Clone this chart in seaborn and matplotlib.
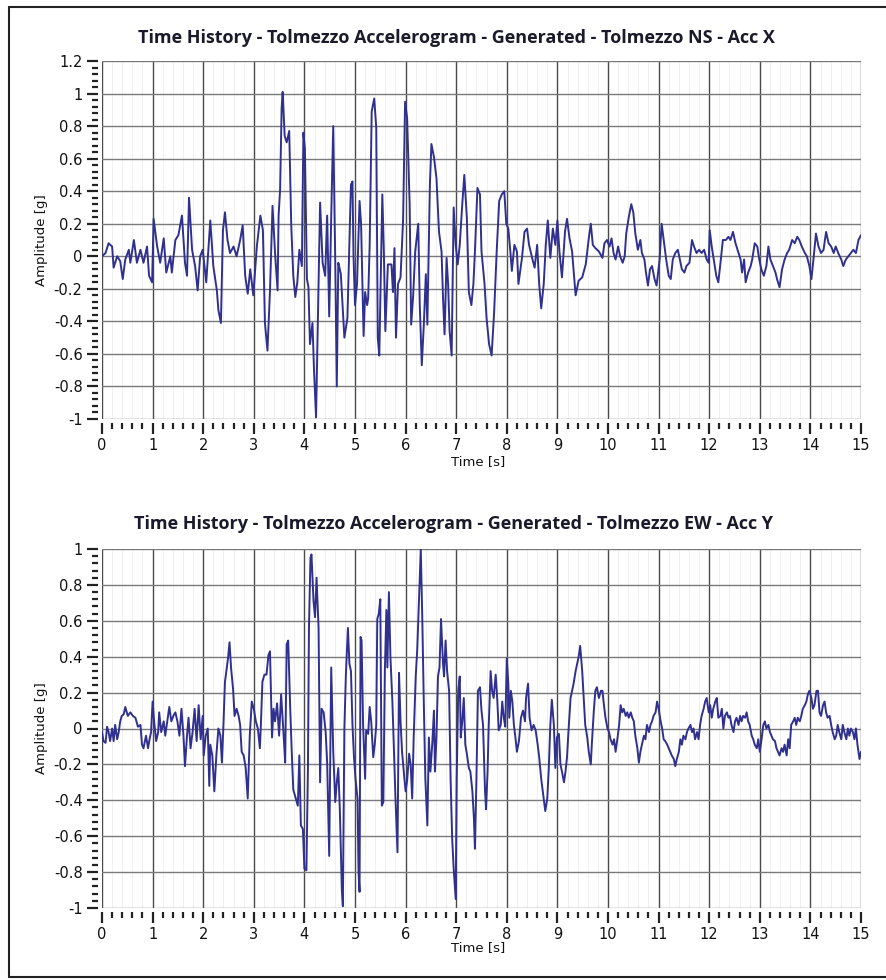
import matplotlib
matplotlib.use('Agg')
import matplotlib.pyplot as plt
from matplotlib.ticker import MultipleLocator, FuncFormatter
from matplotlib.lines import Line2D
import pandas as pd
import seaborn as sns

# ============================================
# Data
# ============================================

TITLE_NS = 'Time History - Tolmezzo Accelerogram - Generated - Tolmezzo NS - Acc X'
TITLE_EW = 'Time History - Tolmezzo Accelerogram - Generated - Tolmezzo EW - Acc Y'

T_NS = [
    0.00, 0.07, 0.13, 0.20, 0.23, 0.30, 0.36, 0.41, 0.46, 0.53,
    0.56, 0.63, 0.69, 0.76, 0.82, 0.89, 0.93, 0.99, 1.02, 1.09,
    1.15, 1.22, 1.27, 1.35, 1.38, 1.45, 1.51, 1.58, 1.64, 1.68,
    1.72, 1.78, 1.84, 1.89, 1.94, 1.99, 2.06, 2.14, 2.20, 2.27,
    2.30, 2.35, 2.39, 2.43, 2.48, 2.53, 2.60, 2.66, 2.73, 2.78,
    2.83, 2.88, 2.93, 2.99, 3.06, 3.13, 3.18, 3.22, 3.27, 3.32,
    3.37, 3.42, 3.47, 3.49, 3.52, 3.55, 3.57, 3.61, 3.65, 3.70,
    3.74, 3.78, 3.82, 3.86, 3.90, 3.95, 3.98, 4.01, 4.05, 4.08,
    4.11, 4.16, 4.19, 4.23, 4.28, 4.31, 4.36, 4.41, 4.45, 4.49,
    4.54, 4.57, 4.61, 4.64, 4.67, 4.70, 4.72, 4.79, 4.85, 4.92,
    4.95, 4.97, 5.00, 5.04, 5.09, 5.12, 5.15, 5.17, 5.20, 5.24,
    5.26, 5.29, 5.33, 5.38, 5.42, 5.45, 5.48, 5.52, 5.54, 5.57,
    5.60, 5.65, 5.72, 5.75, 5.78, 5.81, 5.85, 5.90, 5.95, 5.99,
    6.03, 6.08, 6.11, 6.15, 6.19, 6.25, 6.28, 6.32, 6.36, 6.40,
    6.43, 6.48, 6.51, 6.56, 6.61, 6.66, 6.71, 6.74, 6.77, 6.81,
    6.84, 6.87, 6.91, 6.95, 6.99, 7.03, 7.07, 7.12, 7.16, 7.21,
    7.25, 7.30, 7.34, 7.37, 7.42, 7.47, 7.50, 7.56, 7.60, 7.65,
    7.70, 7.75, 7.80, 7.85, 7.90, 7.95, 7.99, 8.03, 8.07, 8.10,
    8.15, 8.20, 8.23, 8.30, 8.35, 8.40, 8.44, 8.50, 8.55, 8.60,
    8.64, 8.68, 8.73, 8.77, 8.81, 8.86, 8.91, 8.96, 9.00, 9.04,
    9.09, 9.15, 9.19, 9.24, 9.29, 9.36, 9.42, 9.49, 9.56, 9.62,
    9.66, 9.70, 9.75, 9.82, 9.89, 9.93, 9.98, 10.03, 10.07, 10.11,
    10.15, 10.20, 10.24, 10.29, 10.33, 10.36, 10.41, 10.46, 10.50, 10.54,
    10.59, 10.64, 10.67, 10.72, 10.75, 10.79, 10.83, 10.87, 10.92, 10.96,
    11.02, 11.06, 11.10, 11.15, 11.20, 11.24, 11.28, 11.33, 11.38, 11.42,
    11.46, 11.51, 11.55, 11.61, 11.66, 11.70, 11.75, 11.80, 11.85, 11.90,
    11.95, 11.99, 12.01, 12.05, 12.10, 12.14, 12.18, 12.23, 12.27, 12.33,
    12.38, 12.42, 12.47, 12.52, 12.58, 12.62, 12.65, 12.69, 12.72, 12.77,
    12.82, 12.85, 12.90, 12.95, 12.99, 13.03, 13.08, 13.13, 13.17, 13.21,
    13.26, 13.31, 13.34, 13.39, 13.44, 13.49, 13.54, 13.58, 13.64, 13.69,
    13.74, 13.78, 13.83, 13.89, 13.93, 13.98, 14.02, 14.06, 14.11, 14.16,
    14.21, 14.26, 14.31, 14.36, 14.41, 14.46, 14.50, 14.55, 14.61, 14.65,
    14.70, 14.75, 14.80, 14.85, 14.90, 14.95, 15.00,
]

ACC_NS = [
    0.00, 0.02, 0.08, 0.06, -0.07, 0.00, -0.03, -0.14, -0.02, 0.04,
    -0.04, 0.10, -0.04, 0.04, -0.04, 0.06, -0.12, -0.16, 0.23, 0.06,
    -0.04, 0.11, -0.10, 0.00, -0.10, 0.10, 0.13, 0.25, -0.04, -0.12,
    0.36, 0.04, -0.06, -0.21, 0.00, 0.04, -0.16, 0.22, -0.06, -0.21,
    -0.33, -0.41, 0.16, 0.27, 0.10, 0.02, 0.06, 0.00, 0.10, 0.19,
    -0.12, -0.23, -0.08, -0.24, 0.06, 0.25, 0.16, -0.41, -0.58, -0.21,
    0.31, 0.02, -0.21, 0.25, 0.41, 0.91, 1.01, 0.74, 0.70, 0.77,
    0.19, -0.12, -0.25, -0.16, 0.04, -0.06, 0.76, 0.66, -0.14, -0.19,
    -0.54, -0.41, -0.70, -0.99, -0.16, 0.33, -0.04, -0.12, 0.25, -0.37,
    0.39, 0.80, -0.04, -0.80, -0.04, -0.08, -0.11, -0.50, -0.38, 0.44,
    0.46, 0.01, -0.30, -0.17, 0.34, 0.20, -0.22, -0.49, -0.22, -0.30,
    -0.26, 0.07, 0.89, 0.97, 0.79, -0.50, -0.61, 0.03, 0.38, 0.03,
    -0.46, -0.05, -0.05, -0.22, 0.05, -0.50, -0.17, -0.13, 0.22, 0.95,
    0.85, 0.32, -0.42, -0.24, 0.03, 0.20, -0.30, -0.67, -0.42, -0.11,
    -0.42, 0.44, 0.69, 0.61, 0.48, 0.15, 0.03, -0.26, -0.48, -0.01,
    -0.17, -0.46, -0.61, 0.30, 0.07, -0.05, 0.07, 0.32, 0.50, 0.24,
    -0.22, -0.30, -0.17, 0.03, 0.42, 0.38, 0.03, -0.17, -0.38, -0.54,
    -0.61, -0.34, 0.03, 0.34, 0.38, 0.40, 0.20, 0.17, 0.03, -0.09,
    0.07, 0.03, -0.17, -0.01, 0.15, 0.17, 0.07, -0.01, -0.07, 0.07,
    -0.17, -0.32, -0.17, 0.07, 0.22, -0.01, 0.17, 0.07, 0.22, 0.03,
    -0.13, 0.15, 0.23, 0.11, 0.03, -0.24, -0.15, -0.13, -0.05, 0.11,
    0.20, 0.07, 0.05, 0.03, -0.01, 0.08, 0.10, 0.06, 0.11, 0.02,
    -0.02, 0.06, 0.00, -0.04, 0.00, 0.14, 0.24, 0.32, 0.27, 0.14,
    0.04, 0.10, 0.02, -0.02, -0.10, -0.18, -0.08, -0.06, -0.14, -0.18,
    -0.02, 0.20, 0.10, -0.02, -0.12, -0.14, -0.02, 0.02, 0.04, -0.02,
    -0.08, -0.10, -0.06, -0.04, 0.10, 0.06, 0.02, 0.04, 0.02, 0.04,
    -0.02, -0.04, 0.16, 0.06, -0.04, -0.12, -0.16, -0.02, 0.10, 0.10,
    0.12, 0.10, 0.15, 0.08, 0.02, -0.02, -0.10, -0.02, -0.16, -0.10,
    -0.06, -0.02, 0.08, 0.06, -0.02, -0.08, -0.12, -0.06, 0.06, -0.02,
    -0.06, -0.10, -0.14, -0.19, -0.08, -0.02, 0.02, 0.04, 0.10, 0.08,
    0.12, 0.10, 0.06, 0.02, 0.00, -0.06, -0.14, -0.02, 0.14, 0.06,
    0.02, 0.04, 0.15, 0.08, 0.06, 0.02, 0.06, 0.02, -0.02, -0.06,
    -0.02, 0.00, 0.02, 0.04, 0.02, 0.10, 0.13,
]

T_EW = [
    0.00, 0.03, 0.07, 0.10, 0.13, 0.16, 0.20, 0.23, 0.26, 0.30,
    0.33, 0.36, 0.39, 0.43, 0.46, 0.51, 0.56, 0.61, 0.66, 0.71,
    0.76, 0.79, 0.82, 0.87, 0.91, 0.94, 0.97, 1.00, 1.03, 1.07,
    1.11, 1.13, 1.17, 1.22, 1.25, 1.29, 1.33, 1.37, 1.41, 1.45,
    1.49, 1.53, 1.57, 1.61, 1.64, 1.68, 1.71, 1.75, 1.79, 1.83,
    1.87, 1.91, 1.95, 1.99, 2.01, 2.05, 2.09, 2.12, 2.14, 2.18,
    2.22, 2.26, 2.30, 2.34, 2.37, 2.40, 2.43, 2.49, 2.52, 2.55,
    2.59, 2.62, 2.66, 2.70, 2.73, 2.76, 2.80, 2.84, 2.88, 2.92,
    2.96, 3.00, 3.04, 3.08, 3.12, 3.14, 3.17, 3.21, 3.25, 3.29,
    3.32, 3.36, 3.39, 3.42, 3.46, 3.50, 3.54, 3.59, 3.62, 3.65,
    3.68, 3.72, 3.75, 3.78, 3.83, 3.87, 3.90, 3.93, 3.97, 4.00,
    4.04, 4.07, 4.09, 4.12, 4.14, 4.18, 4.21, 4.24, 4.28, 4.31,
    4.34, 4.38, 4.42, 4.45, 4.49, 4.53, 4.57, 4.61, 4.64, 4.67,
    4.70, 4.74, 4.76, 4.79, 4.82, 4.86, 4.89, 4.92, 4.95, 4.98,
    5.01, 5.05, 5.07, 5.09, 5.11, 5.13, 5.16, 5.20, 5.22, 5.26,
    5.29, 5.32, 5.36, 5.39, 5.42, 5.44, 5.47, 5.50, 5.53, 5.56,
    5.59, 5.62, 5.64, 5.67, 5.70, 5.74, 5.77, 5.80, 5.84, 5.87,
    5.90, 5.93, 5.97, 6.00, 6.03, 6.07, 6.10, 6.13, 6.16, 6.20,
    6.23, 6.26, 6.30, 6.33, 6.36, 6.39, 6.43, 6.46, 6.49, 6.53,
    6.56, 6.58, 6.61, 6.64, 6.67, 6.70, 6.74, 6.76, 6.79, 6.82,
    6.86, 6.89, 6.92, 6.95, 6.99, 7.01, 7.04, 7.07, 7.09, 7.12,
    7.15, 7.18, 7.21, 7.25, 7.28, 7.32, 7.35, 7.37, 7.40, 7.43,
    7.47, 7.50, 7.53, 7.57, 7.59, 7.62, 7.64, 7.68, 7.71, 7.74,
    7.78, 7.81, 7.84, 7.88, 7.91, 7.94, 7.97, 8.00, 8.03, 8.05,
    8.08, 8.11, 8.14, 8.17, 8.20, 8.24, 8.28, 8.32, 8.36, 8.38,
    8.42, 8.45, 8.49, 8.53, 8.57, 8.61, 8.64, 8.68, 8.72, 8.76,
    8.80, 8.83, 8.86, 8.89, 8.93, 8.96, 8.99, 9.03, 9.06, 9.09,
    9.13, 9.16, 9.19, 9.22, 9.26, 9.29, 9.32, 9.36, 9.39, 9.42,
    9.45, 9.49, 9.52, 9.55, 9.59, 9.62, 9.66, 9.68, 9.72, 9.75,
    9.78, 9.82, 9.86, 9.89, 9.92, 9.95, 9.99, 10.02, 10.05, 10.09,
    10.12, 10.15, 10.18, 10.22, 10.25, 10.28, 10.31, 10.35, 10.38, 10.41,
    10.45, 10.48, 10.51, 10.54, 10.58, 10.61, 10.64, 10.67, 10.71, 10.74,
    10.77, 10.81, 10.84, 10.87, 10.90, 10.94, 10.97, 11.00, 11.04, 11.07,
    11.10, 11.13, 11.17, 11.20, 11.23, 11.26, 11.30, 11.33, 11.36, 11.40,
    11.43, 11.46, 11.49, 11.53, 11.56, 11.59, 11.63, 11.66, 11.69, 11.72,
    11.76, 11.79, 11.82, 11.85, 11.89, 11.92, 11.95, 11.99, 12.02, 12.05,
    12.08, 12.12, 12.15, 12.18, 12.22, 12.25, 12.28, 12.31, 12.35, 12.38,
    12.41, 12.44, 12.48, 12.51, 12.54, 12.58, 12.61, 12.64, 12.67, 12.71,
    12.74, 12.77, 12.80, 12.84, 12.87, 12.90, 12.94, 12.97, 13.00, 13.03,
    13.07, 13.10, 13.13, 13.17, 13.20, 13.23, 13.26, 13.30, 13.33, 13.36,
    13.39, 13.43, 13.46, 13.49, 13.53, 13.56, 13.59, 13.62, 13.66, 13.69,
    13.72, 13.75, 13.79, 13.82, 13.85, 13.89, 13.92, 13.95, 13.98, 14.02,
    14.05, 14.08, 14.12, 14.15, 14.18, 14.21, 14.25, 14.28, 14.31, 14.34,
    14.38, 14.41, 14.44, 14.48, 14.51, 14.54, 14.57, 14.61, 14.64, 14.67,
    14.71, 14.74, 14.77, 14.80, 14.84, 14.87, 14.90, 14.93, 14.97, 15.00,
]

ACC_EW = [
    -0.02, -0.07, -0.08, 0.01, -0.02, -0.07, 0.00, -0.07, 0.02, -0.06,
    -0.02, 0.04, 0.07, 0.08, 0.12, 0.07, 0.09, 0.07, 0.06, 0.01,
    0.02, -0.09, -0.11, -0.04, -0.11, -0.06, -0.02, 0.15, 0.04, -0.07,
    -0.02, 0.09, -0.02, 0.04, -0.04, 0.04, 0.12, 0.04, 0.07, 0.09,
    0.04, -0.04, 0.11, -0.04, -0.21, -0.04, 0.06, -0.11, -0.02, 0.11,
    -0.07, 0.13, -0.06, 0.07, -0.15, -0.04, 0.00, -0.32, -0.09, -0.15,
    -0.35, -0.15, 0.00, -0.04, -0.19, 0.02, 0.26, 0.39, 0.48, 0.34,
    0.22, 0.07, 0.11, 0.07, 0.02, -0.13, -0.15, -0.22, -0.39, -0.04,
    0.15, 0.11, 0.04, 0.00, -0.11, 0.02, 0.26, 0.30, 0.30, 0.41,
    0.43, -0.05, 0.11, 0.04, 0.14, -0.04, 0.19, -0.04, -0.19, 0.47,
    0.49, 0.11, -0.13, -0.34, -0.39, -0.43, -0.15, -0.54, -0.56, -0.78,
    -0.79, -0.22, 0.56, 0.95, 0.97, 0.71, 0.62, 0.84, 0.56, -0.30,
    0.11, 0.09, -0.02, -0.19, -0.71, 0.34, -0.13, -0.41, -0.30, -0.22,
    -0.45, -0.90, -0.99, 0.00, 0.30, 0.56, 0.36, 0.32, 0.02, -0.16,
    -0.28, -0.39, -0.80, -0.91, 0.51, 0.49, 0.02, -0.28, -0.01, -0.03,
    0.12, 0.04, -0.16, -0.09, 0.02, 0.61, 0.64, 0.72, -0.43, -0.41,
    0.32, 0.66, 0.34, 0.76, 0.40, 0.14, -0.13, -0.39, -0.69, 0.31,
    0.04, -0.13, -0.26, -0.35, -0.29, -0.14, -0.20, -0.39, -0.05, 0.29,
    0.44, 0.68, 1.00, 0.61, 0.14, -0.28, -0.54, -0.05, -0.24, -0.07,
    0.10, -0.24, -0.05, 0.29, 0.34, 0.61, 0.36, 0.29, 0.49, 0.32,
    0.21, -0.29, -0.61, -0.78, -0.95, -0.28, 0.21, 0.29, -0.05, 0.04,
    0.17, -0.09, -0.14, -0.22, -0.24, -0.35, -0.50, -0.67, -0.28, 0.21,
    0.23, 0.10, 0.02, -0.35, -0.45, -0.24, -0.01, 0.32, 0.21, 0.17,
    0.30, 0.17, -0.01, 0.02, 0.15, 0.06, 0.01, 0.39, 0.25, 0.06,
    0.21, 0.15, 0.02, -0.05, -0.13, -0.07, 0.06, 0.10, 0.04, 0.17,
    0.25, 0.06, -0.01, 0.02, -0.01, -0.09, -0.16, -0.28, -0.37, -0.46,
    -0.39, -0.22, 0.02, 0.16, 0.02, -0.22, -0.05, -0.03, -0.20, -0.24,
    -0.30, -0.24, -0.16, -0.01, 0.17, 0.21, 0.25, 0.32, 0.36, 0.40,
    0.46, 0.32, 0.17, 0.02, -0.05, -0.13, -0.20, -0.09, 0.10, 0.21,
    0.23, 0.17, 0.21, 0.21, 0.13, 0.06, 0.00, -0.02, -0.06, -0.09,
    -0.06, -0.13, -0.07, 0.02, 0.13, 0.09, 0.11, 0.07, 0.09, 0.06,
    0.09, 0.06, 0.04, -0.04, -0.11, -0.19, -0.13, -0.09, -0.04, -0.06,
    0.02, -0.02, 0.02, 0.04, 0.07, 0.09, 0.15, 0.11, 0.04, 0.00,
    -0.06, -0.07, -0.09, -0.11, -0.13, -0.15, -0.17, -0.21, -0.17, -0.13,
    -0.06, -0.09, -0.04, -0.06, -0.02, 0.00, 0.02, -0.02, 0.00, -0.06,
    -0.02, -0.06, 0.02, 0.07, 0.11, 0.15, 0.17, 0.09, 0.13, 0.06,
    0.11, 0.15, 0.17, 0.06, 0.07, 0.11, 0.00, 0.07, 0.09, 0.06,
    0.07, 0.02, -0.02, 0.04, 0.06, 0.02, 0.07, 0.04, 0.07, 0.06,
    0.09, 0.04, 0.02, -0.04, -0.06, -0.09, -0.11, -0.06, -0.13, -0.07,
    0.02, 0.04, 0.00, 0.02, -0.02, -0.04, -0.06, -0.07, -0.11, -0.13,
    -0.15, -0.11, -0.13, -0.09, -0.15, -0.06, -0.11, 0.02, 0.04, 0.06,
    0.02, 0.06, 0.04, 0.07, 0.11, 0.13, 0.15, 0.19, 0.21, 0.17,
    0.11, 0.13, 0.21, 0.21, 0.09, 0.07, 0.13, 0.15, 0.09, 0.06,
    0.07, 0.02, -0.02, -0.06, -0.04, 0.02, -0.02, -0.06, 0.02, -0.02,
    -0.06, 0.00, -0.04, 0.00, -0.02, -0.06, 0.00, -0.09, -0.17, -0.13,
]

LINE_COLOR = '#30308f'
W, H = 886, 980


def fmt_tick(v, pos):
    return f'{round(v, 2) + 0:g}'


def draw_panel(ax, t, acc, ymax):
    """One time-history panel"""
    df = pd.DataFrame({'t': t, 'acc': acc})
    sns.lineplot(data=df, x='t', y='acc', ax=ax, color=LINE_COLOR,
                 linewidth=1.4, estimator=None, sort=False, zorder=3)

    ax.set_xlim(0, 15)
    ax.set_ylim(-1, ymax)
    ax.set_xlabel('')
    ax.set_ylabel('')

    ax.xaxis.set_major_locator(MultipleLocator(1))
    ax.xaxis.set_minor_locator(MultipleLocator(0.2))
    ax.yaxis.set_major_locator(MultipleLocator(0.2))
    ax.yaxis.set_minor_locator(MultipleLocator(0.04))
    ax.yaxis.set_major_formatter(FuncFormatter(fmt_tick))

    # grid: dark verticals, grey horizontals, faint minor verticals
    ax.set_axisbelow(True)
    ax.xaxis.grid(True, which='major', color='#4a4a4a', linewidth=1.0)
    ax.xaxis.grid(True, which='minor', color='#eeeeee', linewidth=0.6)
    ax.yaxis.grid(True, which='major', color='#7a7a7a', linewidth=1.0)

    for side in ['top', 'right']:
        ax.spines[side].set_visible(False)
    for side in ['left', 'bottom']:
        ax.spines[side].set_position(('outward', 3))
        ax.spines[side].set_color('none')

    ax.tick_params(which='both', bottom=True, left=True, top=False, right=False)
    ax.tick_params(which='major', direction='out', length=8, width=1.6,
                   color='#222222', labelsize=10.5, pad=3, labelcolor='#111111')
    ax.tick_params(which='minor', direction='out', length=4, width=1.6,
                   color='#222222')


def main():
    sns.set_style('white')
    plt.rcParams['font.family'] = ['DejaVu Sans']
    plt.rcParams['axes.unicode_minus'] = False

    fig = plt.figure(figsize=(W / 100, H / 100), dpi=100)

    ax1 = fig.add_axes([102 / W, 1 - 419 / H, 759 / W, 358 / H])
    draw_panel(ax1, T_NS, ACC_NS, 1.2)

    ax2 = fig.add_axes([102 / W, 1 - 908 / H, 759 / W, 359 / H])
    draw_panel(ax2, T_EW, ACC_EW, 1.0)

    # titles and axis labels
    tkw = dict(ha='center', va='center', fontsize=13, fontweight='bold',
               family=['Open Sans', 'DejaVu Sans'], color='#1a1a2a')
    fig.text(456 / W, 1 - 38 / H, TITLE_NS, **tkw)
    fig.text(453 / W, 1 - 524 / H, TITLE_EW, **tkw)

    lkw = dict(ha='center', va='center', fontsize=9.5, color='#111111')
    fig.text(478 / W, 1 - 462 / H, 'Time [s]', **lkw)
    fig.text(478 / W, 1 - 948 / H, 'Time [s]', **lkw)
    fig.text(42 / W, 1 - 240 / H, 'Amplitude [g]', rotation=90, **lkw)
    fig.text(42 / W, 1 - 728 / H, 'Amplitude [g]', rotation=90, **lkw)

    # outer frame of the scanned panel
    frame = dict(transform=fig.transFigure, color='#222222', linewidth=1.5)
    fig.add_artist(Line2D([9 / W, 9 / W], [1 - 7 / H, 1 - 977 / H], **frame))
    fig.add_artist(Line2D([9 / W, 1], [1 - 7 / H, 1 - 7 / H], **frame))
    fig.add_artist(Line2D([9 / W, 1], [1 - 977 / H, 1 - 977 / H], **frame))

    fig.savefig('out.png', dpi=100)


if __name__ == '__main__':
    main()
